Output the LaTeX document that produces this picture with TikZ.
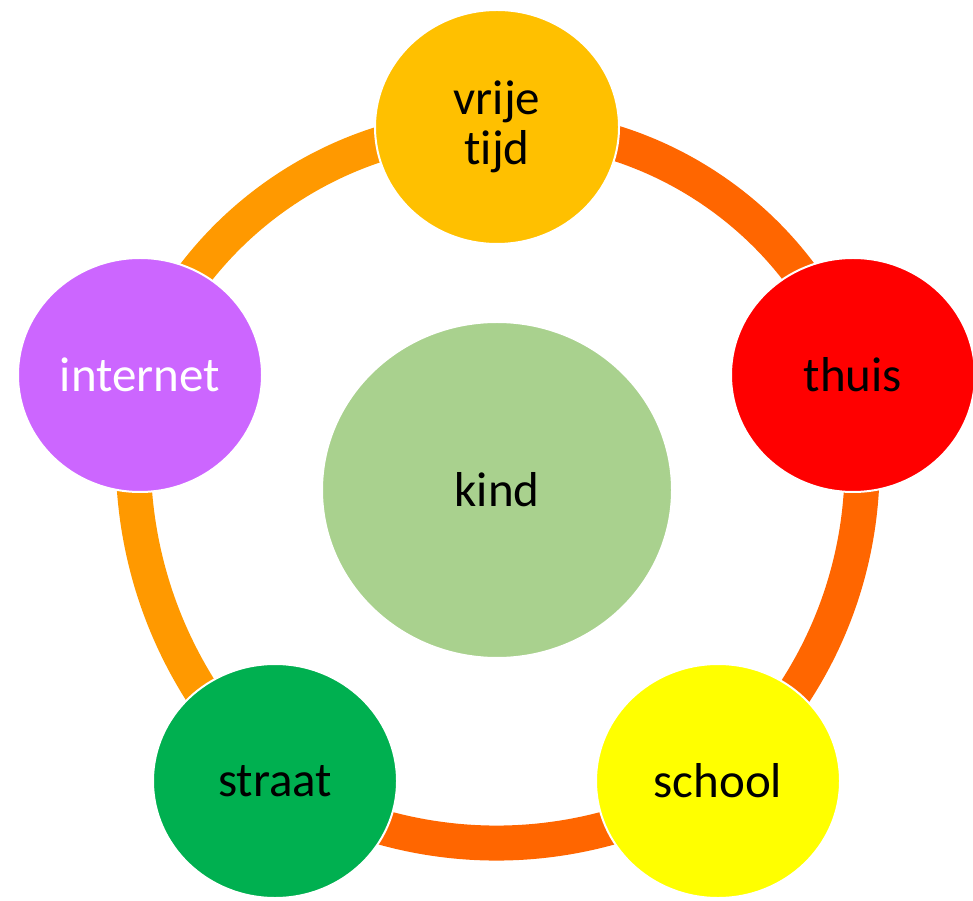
\documentclass[tikz,border=0pt]{standalone}
\usepackage{fontspec}
\setmainfont{Carlito}[Ligatures=NoCommon]
\usetikzlibrary{shapes.geometric,backgrounds}
\definecolor{ringlicht}{HTML}{FF9900}
\definecolor{ringdonker}{HTML}{FF6600}
\definecolor{geel}{HTML}{FFC000}
\definecolor{rood}{HTML}{FF0000}
\definecolor{citroen}{HTML}{FFFF00}
\definecolor{groen}{HTML}{00B050}
\definecolor{paars}{HTML}{CC66FF}
\definecolor{lichtgroen}{HTML}{A9D18E}
\tikzset{
  plek/.style={ellipse,draw=white,line width=1pt,minimum width=122pt,minimum height=117pt,inner sep=0pt,align=center,font=\fontsize{24.5}{25}\selectfont},
  kern/.style={plek,minimum width=175pt,minimum height=168pt},
  band/.style={line width=17.5pt}
}
\begin{document}
\begin{tikzpicture}[x=0.5pt,y=0.5pt]
\useasboundingbox (0,0) rectangle (973,900);
% omgevingen rond het kind
\node[plek,fill=geel] (vt) at (497,773) {vrije\\tijd};
\node[plek,fill=rood] (th) at (853,525) {thuis};
\node[plek,fill=citroen] (sc) at (718,119) {school};
\node[plek,fill=groen] (st) at (275,119) {straat};
\node[plek,fill=paars,text=white] (in) at (140,525) {internet};
\node[kern,fill=lichtgroen] (kd) at (497,410) {kind};
% ring
\begin{scope}[on background layer]
\foreach \a/\b/\c/\k in {vt/th/ringdonker/37,th/sc/ringdonker/30,sc/st/ringdonker/31,st/in/ringlicht/28,in/vt/ringlicht/36}
  \draw[band,\c] (\a.center) to[bend left=\k,looseness=0.93] (\b.center);
\end{scope}
\end{tikzpicture}
\end{document}
